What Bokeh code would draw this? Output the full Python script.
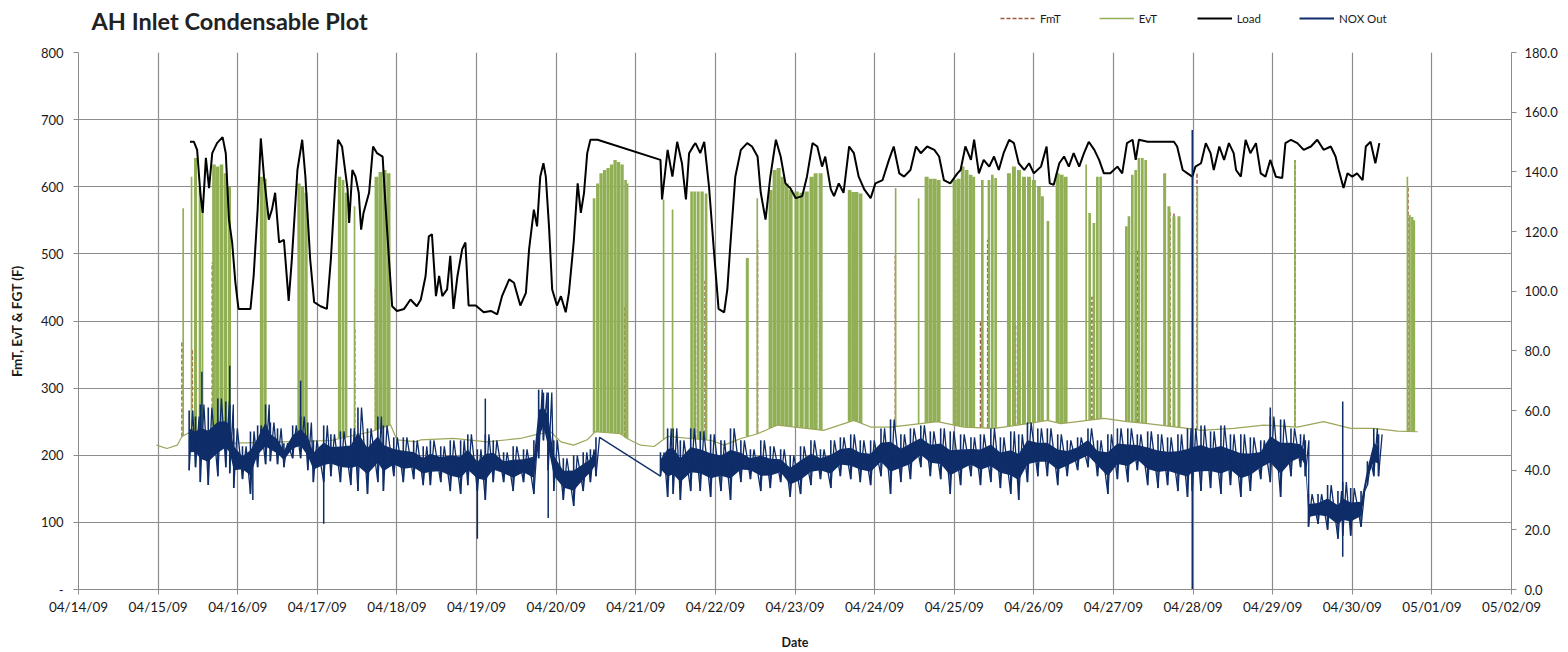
import numpy as np
import pandas as pd
from bokeh.plotting import figure
from bokeh.layouts import column
from bokeh.models import (Range1d, LinearAxis, FixedTicker, DatetimeTickFormatter,
                          NumeralTickFormatter, Legend, LegendItem, Label)
from bokeh.embed import file_html
from bokeh.resources import INLINE

# ---------------- data (days since 04/14/09 00:00) ----------------
title_text = "AH Inlet Condensable Plot"
series_names = ["FmT", "EvT", "Load", "NOX Out"]
tick_dates = [d.strftime("%Y-%m-%d") for d in pd.date_range("2009-04-14", "2009-05-02", freq="D")]

load_day = [1.40,1.45,1.49,1.53,1.56,1.60,1.64,1.68,1.74,1.81,1.85,1.89,1.93,1.97,2.01,2.08,2.16,2.20,2.25,2.29,
            2.33,2.39,2.43,2.47,2.52,2.58,2.64,2.68,2.75,2.81,2.85,2.91,2.96,3.04,3.12,3.17,3.23,3.26,3.31,3.38,
            3.40,3.44,3.48,3.52,3.55,3.58,3.65,3.70,3.75,3.82,3.86,3.90,3.94,4.00,4.09,4.17,4.25,4.30,4.36,4.40,
            4.44,4.49,4.53,4.57,4.63,4.67,4.71,4.76,4.82,4.86,4.90,4.99,5.09,5.18,5.26,5.32,5.41,5.47,5.55,5.62,
            5.66,5.72,5.76,5.80,5.84,5.87,5.91,5.95,6.01,6.06,6.12,6.16,6.22,6.27,6.31,6.35,6.39,6.43,6.52,
            7.31,7.33,7.40,7.46,7.52,7.58,7.63,7.67,7.73,7.75,7.81,7.86,7.92,7.98,8.04,8.11,8.15,8.19,8.25,8.32,
            8.40,8.46,8.53,8.57,8.63,8.69,8.76,8.82,8.88,8.94,9.01,9.09,9.15,9.22,9.28,9.34,9.38,9.45,9.49,9.55,
            9.61,9.68,9.74,9.80,9.87,9.95,10.01,10.10,10.18,10.24,10.31,10.37,10.45,10.52,10.58,10.66,10.75,10.81,
            10.87,10.95,11.04,11.08,11.14,11.21,11.25,11.31,11.37,11.44,11.50,11.56,11.62,11.69,11.75,11.81,11.88,
            11.94,12.00,12.09,12.16,12.20,12.25,12.32,12.38,12.44,12.50,12.57,12.63,12.69,12.76,12.82,12.88,12.96,
            13.05,13.11,13.17,13.24,13.28,13.32,13.43,13.59,13.76,13.80,13.87,13.93,13.99,14.03,14.10,14.16,14.22,
            14.26,14.33,14.39,14.45,14.51,14.54,14.60,14.66,14.72,14.79,14.85,14.91,14.97,15.04,15.12,15.16,15.23,
            15.31,15.39,15.48,15.56,15.64,15.73,15.79,15.83,15.89,15.94,16.00,16.06,16.13,16.17,16.23,16.29,16.34]
load_val = [667,667,655,591,561,643,598,650,665,674,650,551,517,458,418,418,418,467,566,672,
            615,551,566,591,517,521,430,492,625,670,615,492,428,422,418,492,615,670,660,596,
            546,625,615,591,536,561,591,660,650,645,566,492,422,415,418,432,422,432,467,526,
            529,437,467,437,447,497,418,467,507,517,423,423,413,415,410,437,462,457,423,442,
            507,566,541,615,635,615,541,447,423,437,413,442,517,605,561,591,650,670,670,
            640,581,655,615,667,635,581,650,662,665,650,667,600,507,418,413,447,517,615,655,
            665,660,645,591,551,615,670,645,605,598,583,586,615,665,660,630,645,596,586,605,
            591,660,650,615,596,583,605,610,640,660,620,615,625,660,650,660,655,645,
            610,605,620,625,660,640,670,620,640,630,645,625,650,670,665,635,625,
            635,620,630,660,605,603,635,645,630,650,630,650,667,655,640,620,620,
            630,620,665,670,640,670,667,667,667,660,625,620,615,630,635,665,650,
            625,660,640,665,650,625,615,670,650,665,620,615,640,615,613,665,670,
            665,655,660,670,655,660,645,625,598,620,615,620,610,660,667,635,665]

evt_base_day = [0.98,1.11,1.24,1.30,1.41,1.95,2.54,3.17,3.67,3.92,4.00,4.25,4.30,4.71,5.13,5.55,5.72,5.93,
                6.06,6.22,6.39,6.49,6.81,6.89,7.06,7.23,7.31,7.40,7.95,8.11,8.32,8.53,8.78,9.36,9.74,9.95,
                10.20,10.79,11.12,11.50,11.92,12.17,12.34,12.88,13.17,13.43,13.93,14.10,14.51,14.89,15.31,
                15.64,15.98,16.27,16.57,16.82]
evt_base_val = [215,210,215,228,235,218,220,222,235,245,223,220,223,225,220,225,230,235,
                220,215,223,235,232,225,215,213,220,228,222,215,225,232,245,237,252,242,
                242,250,242,240,247,252,247,255,250,247,240,237,240,245,242,
                250,240,240,236,235]

evt_spike_day = [1.315,1.420,1.470,1.526,1.558,1.702,1.746,1.796,1.847,1.897,2.299,2.343,2.770,2.814,2.858,
                 3.279,3.323,3.361,3.467,3.744,3.794,3.844,3.894,
                 6.476,6.520,6.564,6.608,6.652,6.696,6.740,6.784,6.828,6.872,6.897,7.349,7.462,
                 7.701,7.739,7.783,7.833,7.883,8.401,8.526,8.693,8.744,8.794,8.844,8.894,8.945,
                 9.020,9.083,9.146,9.209,9.259,9.322,9.686,9.730,9.774,9.824,10.264,10.553,
                 10.653,10.704,10.754,10.804,11.005,11.055,11.106,11.156,11.206,11.244,
                 11.353,11.436,11.479,11.520,11.687,11.750,11.813,11.876,11.939,12.001,12.064,12.107,12.177,
                 12.299,12.349,12.399,12.657,12.701,12.755,12.798,12.839,
                 13.162,13.195,13.237,13.279,13.320,13.363,13.405,13.643,13.697,13.760,13.823,
                 14.054,15.280,16.692,16.721,16.753,16.775]
evt_spike_peak = [568,615,643,600,566,633,630,633,620,600,615,612,605,600,591,
                  615,610,591,571,615,622,625,620,
                  583,605,620,625,628,633,640,637,633,610,605,581,566,
                  593,593,593,593,590,494,583,595,625,628,615,605,595,
                  593,591,593,615,620,620,595,592,592,590,598,583,
                  615,612,612,610,610,612,630,625,618,615,
                  610,610,618,613,620,630,625,615,615,610,600,586,549,
                  620,618,615,633,561,546,615,615,
                  541,556,618,625,643,643,640,620,571,556,556,
                  600,640,615,558,555,550]
evt_spike_hours = [0.5,0.5,0.9,0.8,0.5,1.1,1.1,1.1,1.1,0.9,1.0,1.0,1.0,1.0,1.0,
                   1.0,0.8,0.8,0.5,1.2,1.2,1.2,1.2,
                   0.8,0.9,1.0,1.0,1.0,1.0,1.0,1.0,1.0,0.8,0.5,0.5,0.5,
                   0.8,0.8,0.9,1.0,0.8,0.9,0.5,1.2,1.2,1.2,1.2,1.2,1.2,
                   1.3,1.3,1.3,1.3,1.2,1.2,1.1,1.1,1.1,1.1,0.5,0.5,
                   1.2,1.2,1.2,1.2,1.2,1.2,1.1,1.1,1.1,0.9,
                   0.8,0.8,0.8,0.8,1.2,1.2,1.2,1.2,1.2,1.2,1.1,0.9,0.8,
                   1.2,1.2,1.2,0.5,0.8,0.8,0.8,0.8,
                   0.8,0.8,0.8,0.8,0.8,0.8,0.8,0.9,0.9,0.9,0.9,
                   0.5,0.5,0.5,0.7,0.7,0.7]

fmt_spike_day = [1.30,1.43,1.46,1.68,2.29,3.47,3.73,6.86,7.75,7.87,8.53,8.79,9.27,9.74,10.26,10.66,11.02,
                 11.33,11.42,11.77,11.86,11.94,12.34,12.73,13.30,13.71,13.76,14.05,15.28,16.70]
fmt_spike_peak = [369,358,467,487,480,388,447,420,500,460,521,422,447,532,497,539,551,
                  398,521,393,551,541,546,436,505,565,560,620,640,600]

nox_day = [1.39,1.47,1.53,1.63,1.75,1.85,1.90,1.95,2.06,2.16,2.25,2.35,2.41,2.50,2.58,2.69,2.79,2.88,2.95,
           3.08,3.17,3.29,3.42,3.51,3.63,3.76,3.83,3.96,4.08,4.21,4.33,4.42,4.55,4.67,4.80,4.89,
           5.01,5.11,5.21,5.34,5.46,5.59,5.72,5.78,5.84,5.90,5.97,6.09,6.22,6.34,6.43,6.50,
           7.31,7.40,7.47,7.56,7.69,7.81,7.94,8.07,8.19,8.32,8.44,8.57,8.69,8.82,8.94,
           9.07,9.20,9.32,9.45,9.57,9.70,9.82,9.95,10.08,10.20,10.33,10.45,10.58,10.70,10.83,10.95,
           11.08,11.21,11.33,11.46,11.58,11.71,11.81,11.92,12.05,12.17,12.30,12.42,12.55,12.68,12.80,12.93,
           13.05,13.18,13.30,13.43,13.56,13.68,13.81,13.93,13.99,14.10,14.22,14.35,14.47,14.60,14.72,14.85,14.97,
           15.10,15.23,15.35,15.41,15.45,15.57,15.69,15.82,15.88,15.98,16.11,16.19,16.27,16.33]
nox_hi = [60,58,62,61,64,63,62,54,48,53,55,62,56,54,49,55,58,56,50,
          55,52,53,54,61,54,58,55,51,51,50,48,50,48,50,50,52,
          47,52,50,46,48,47,50,67,66,66,50,44,45,46,47,51,
          46,54,54,50,54,53,52,50,54,50,47,50,48,47,45,
          48,50,47,50,51,52,50,50,54,57,52,54,55,53,54,53,
          52,51,52,54,51,53,52,56,54,54,52,50,51,54,50,52,
          54,54,52,53,52,51,52,54,54,55,53,55,52,52,51,50,58,
          57,54,52,50,32,32,35,33,36,34,33,43,54,52]
nox_lo = [40,41,36,35,38,41,39,34,37,32,41,42,43,42,41,44,44,40,36,
          36,38,36,35,33,32,36,33,38,36,37,35,35,36,33,32,35,
          33,30,36,36,33,36,32,44,50,40,33,30,28,33,36,38,
          38,31,32,30,33,33,31,33,30,36,37,33,34,36,31,
          32,35,37,34,38,37,36,35,38,32,36,37,41,38,37,32,
          35,38,35,36,34,32,30,36,38,38,35,38,40,41,38,32,
          37,36,40,35,34,35,33,31,33,33,34,32,35,31,33,37,36,
          31,38,41,38,21,22,20,17,18,18,21,35,38,38]
nox_spike_day = [1.55,1.90,2.19,2.79,3.08,5.01,5.11,5.90,13.99,13.99,14.97,15.88,15.88]
nox_spike_val = [73,75,30,70,22,17,64,24,154,0,61,63,11]

# ---------------- helpers ----------------
START = pd.Timestamp("2009-04-14")
END = pd.Timestamp("2009-05-02")


def to_dt(days):
    return (START + pd.to_timedelta(np.asarray(days, dtype=float), unit="D")).to_numpy()


GREEN = "#91B055"
GREEN_LINE = "#9CA65A"
BROWN = "#9C5A3C"
NAVY = "#0F2D68"
GRID = "#8C8C8C"
TXT = "#1A1A1A"
FONT = "Lato"
W = 1568
HEAD_H = 42
MAIN_H = 652 - HEAD_H
FRAME_LEFT = 78

# ---------------- header (title + legend) ----------------
head = figure(width=W, height=HEAD_H, x_range=Range1d(0, W), y_range=Range1d(0, HEAD_H),
              output_backend="svg", toolbar_location=None,
              x_axis_location=None, y_axis_location=None, min_border=0)
head.outline_line_color = None
head.grid.visible = False
head.add_layout(Label(x=91 - FRAME_LEFT, y=HEAD_H - 20, x_units="screen", y_units="screen", text=title_text,
                      text_font=FONT, text_font_size="23.5px", text_font_style="bold",
                      text_color="#222222", text_baseline="middle", text_align="left"))
off = ([-50, -40], [-50, -50])   # legend-only glyphs, outside the visible range
h_fmt = head.line(*off, line_color=BROWN, line_width=1.5, line_dash="4 2")
h_evt = head.line(*off, line_color=GREEN, line_width=1.5)
h_load = head.line(*off, line_color="black", line_width=1.8)
h_nox = head.line(*off, line_color=NAVY, line_width=1.8)
legend = Legend(items=[LegendItem(label=series_names[0], renderers=[h_fmt]),
                       LegendItem(label=series_names[1], renderers=[h_evt]),
                       LegendItem(label=series_names[2], renderers=[h_load]),
                       LegendItem(label=series_names[3], renderers=[h_nox])],
                orientation="horizontal", location=(1000 - FRAME_LEFT, HEAD_H - 25),
                glyph_width=35, glyph_height=14, label_standoff=5, spacing=38,
                label_height=14, padding=0, margin=0, border_line_color=None, background_fill_alpha=0,
                label_text_font=FONT, label_text_font_size="11.5px", label_text_color=TXT)
head.add_layout(legend)

# ---------------- main plot ----------------
p = figure(width=W, height=MAIN_H, x_axis_type="datetime",
           x_range=Range1d(START, END), y_range=Range1d(0, 800),
           output_backend="svg", toolbar_location=None,
           min_border_left=FRAME_LEFT, min_border_right=57, min_border_top=52 - HEAD_H, min_border_bottom=60)
p.outline_line_color = None
p.background_fill_color = "white"
p.border_fill_color = "white"
p.extra_y_ranges = {"nox": Range1d(0, 180)}

# x axis
tick_ms = [pd.Timestamp(d).timestamp() * 1000.0 for d in tick_dates]
xt = FixedTicker(ticks=tick_ms)
fmt = "%m/%d/%y"
p.xaxis.ticker = xt
p.xaxis.formatter = DatetimeTickFormatter(microseconds=fmt, milliseconds=fmt, seconds=fmt, minsec=fmt,
                                          minutes=fmt, hourmin=fmt, hours=fmt, days=fmt, months=fmt, years=fmt)
p.xaxis.axis_label = "Date"
p.xaxis.axis_label_text_font_style = "bold"
p.xaxis.axis_label_standoff = 17
p.xgrid.ticker = xt

# left axis
yt = FixedTicker(ticks=list(range(0, 801, 100)))
p.yaxis.ticker = yt
p.yaxis.major_label_overrides = {0: "-"}
p.yaxis.axis_label = "FmT, EvT & FGT (F)"
p.yaxis.axis_label_standoff = 13
p.yaxis.major_label_standoff = 10
p.ygrid.ticker = yt

# right axis
raxis = LinearAxis(y_range_name="nox", ticker=FixedTicker(ticks=list(range(0, 181, 20))),
                   formatter=NumeralTickFormatter(format="0.0"))
p.add_layout(raxis, "right")

for ax in list(p.xaxis) + list(p.yaxis) + [raxis]:
    ax.axis_line_color = GRID
    ax.major_tick_line_color = GRID
    ax.major_tick_in = 0
    ax.major_tick_out = 5
    ax.minor_tick_line_color = None
    ax.major_label_text_font = FONT
    ax.major_label_text_font_size = "13px"
    ax.major_label_text_color = TXT
    ax.axis_label_text_font = FONT
    ax.axis_label_text_font_size = "12.5px"
    ax.axis_label_text_color = TXT
p.xaxis.major_label_text_font_size = "13.5px"
p.xaxis.major_label_standoff = 4
raxis.major_label_standoff = 8
p.yaxis.axis_label_text_font_size = "13.5px"
p.yaxis.axis_label_text_font_style = "bold"

for g in (p.xgrid, p.ygrid):
    g.grid_line_color = GRID
    g.grid_line_width = 1.2

# ---------------- FmT (dashed) ----------------
fmt_base = np.interp(fmt_spike_day, evt_base_day, evt_base_val)
fmt_x = to_dt(fmt_spike_day)
p.segment(x0=fmt_x, y0=fmt_base, x1=fmt_x, y1=fmt_spike_peak,
          line_color=BROWN, line_width=1.5, line_dash="4 2")

# ---------------- EvT ----------------
spk_base = np.interp(evt_spike_day, evt_base_day, evt_base_val)
p.vbar(x=to_dt(evt_spike_day), width=np.asarray(evt_spike_hours) * 3600 * 1000.0,
       bottom=spk_base, top=evt_spike_peak, fill_color=GREEN, line_color=None)
p.line(to_dt(evt_base_day), evt_base_val, line_color=GREEN_LINE, line_width=1.2)

# ---------------- Load ----------------
p.line(to_dt(load_day), load_val, line_color="black", line_width=2.0)

# ---------------- NOX Out (right axis) ----------------
nd = np.asarray(nox_day)
hi = np.asarray(nox_hi, dtype=float)
lo = np.asarray(nox_lo, dtype=float)
split = int(np.argmax(np.diff(nd) > 0.5)) + 1
core_lo = lo + 0.3 * (hi - lo)
core_hi = hi - 0.3 * (hi - lo)
for sl in (slice(0, split), slice(split, None)):
    p.varea(x=to_dt(nd[sl]), y1=core_lo[sl], y2=core_hi[sl],
            fill_color=NAVY, fill_alpha=1.0, y_range_name="nox")
p.segment(x0=to_dt(nd), y0=lo, x1=to_dt(nd), y1=hi, line_color=NAVY, line_width=1.6,
          y_range_name="nox")
zx = np.empty(2 * len(nd))
zy = np.empty(2 * len(nd))
zx[0::2] = nd
zx[1::2] = nd + 0.045
zy[0::2] = lo
zy[1::2] = hi
p.line(to_dt(zx), zy, line_color=NAVY, line_width=1.3, y_range_name="nox")
mid = (np.interp(nox_spike_day, nd, hi) + np.interp(nox_spike_day, nd, lo)) / 2.0
sx = to_dt(nox_spike_day)
p.segment(x0=sx, y0=mid, x1=sx, y1=nox_spike_val, line_color=NAVY, line_width=1.5, y_range_name="nox")

layout = column(head, p, spacing=0)
open("out.html", "w").write(file_html(layout, INLINE))
